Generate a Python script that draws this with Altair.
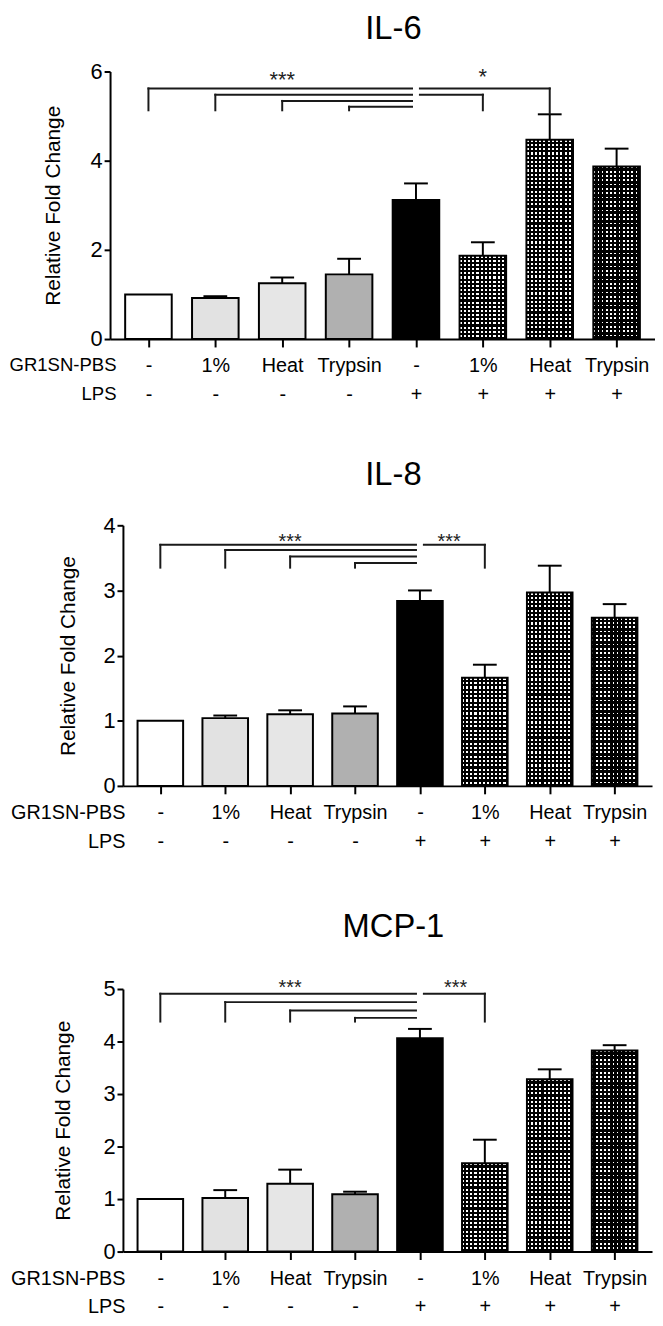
import json
import altair as alt
import pandas as pd

# ---------------- data ----------------
TITLES = ["IL-6", "IL-8", "MCP-1"]
GR_LABELS = ["-", "1%", "Heat", "Trypsin", "-", "1%", "Heat", "Trypsin"]
LPS_LABELS = ["-", "-", "-", "-", "+", "+", "+", "+"]
ROW_TITLES = ["GR1SN-PBS", "LPS"]
Y_TITLE = "Relative Fold Change"

IL6_MEAN = [1.00, 0.92, 1.25, 1.45, 3.12, 1.87, 4.47, 3.87]
IL6_SEM = [0.00, 0.04, 0.13, 0.35, 0.37, 0.30, 0.57, 0.40]
IL8_MEAN = [1.00, 1.04, 1.10, 1.11, 2.84, 1.66, 2.97, 2.58]
IL8_SEM = [0.00, 0.04, 0.06, 0.11, 0.16, 0.20, 0.41, 0.21]
MCP1_MEAN = [1.00, 1.02, 1.29, 1.09, 4.06, 1.68, 3.28, 3.83]
MCP1_SEM = [0.00, 0.15, 0.27, 0.05, 0.18, 0.45, 0.19, 0.10]

# brackets: (bar index, bracket level, leg end)
IL6_LEFT = [(0, 5.62, 5.13), (1, 5.48, 5.13), (2, 5.34, 5.13), (3, 5.21, 5.13)]
IL6_RIGHT = [(6, 5.62, 5.06), (5, 5.48, 5.13)]
IL6_STARS = [(2, 5.96, "***"), (5, 6.02, "*")]

IL8_LEFT = [(0, 3.70, 3.35), (1, 3.62, 3.35), (2, 3.52, 3.35), (3, 3.42, 3.35)]
IL8_RIGHT = [(5, 3.70, 3.35)]
IL8_STARS = [(2, 3.83, "***"), (4.45, 3.83, "***")]

MCP1_LEFT = [(0, 4.91, 4.38), (1, 4.75, 4.38), (2, 4.59, 4.38), (3, 4.45, 4.38)]
MCP1_RIGHT = [(5, 4.91, 4.38)]
MCP1_STARS = [(2, 5.13, "***"), (4.55, 5.13, "***")]

REF_BAR = 4  # the LPS-only bar all brackets meet at

# ---------------- styles ----------------
FONT = "Liberation Sans"
BAR_FILLS = ["#ffffff", "#e2e2e2", "#e6e6e6", "#b0b0b0", "#000000", "#000000", "#000000", "#000000"]
TEXTURE = {5: 0.50, 6: 0.50, 7: 0.40}  # white fraction of checker pattern
PERIOD = 4.3
BRACKET = "#1a1a1a"

LAYOUT = [
    dict(ymax=6, yticks=[0, 2, 4, 6], A=60, H=270, B=70, r0=0, r1=550, size=47,
         title_y=-43, ytx=-57, yoff=0, rowx=6, row_fs=18.7, star_fs=22),
    dict(ymax=4, yticks=[0, 1, 2, 3, 4], A=118, H=263, B=70, r0=13, r1=547, size=46,
         title_y=-51, ytx=-55, yoff=-13, rowx=15, row_fs=20, star_fs=20),
    dict(ymax=5, yticks=[0, 1, 2, 3, 4, 5], A=135, H=265, B=66, r0=13, r1=547, size=46,
         title_y=-62, ytx=-60, yoff=-13, rowx=15, row_fs=20, star_fs=20),
]


def stripes(n, frac, on, off):
    stops = []
    for k in range(n):
        a, b, c = k / n, (k + frac) / n, (k + 1) / n
        stops += [
            alt.GradientStop(color=on, offset=a),
            alt.GradientStop(color=on, offset=b),
            alt.GradientStop(color=off, offset=b),
            alt.GradientStop(color=off, offset=c),
        ]
    return stops


def panel(title, means, sems, left, right, stars, L):
    H = L["H"]
    df = pd.DataFrame({
        "x": list(range(8)),
        "y": means,
        "y2": [m + s for m, s in zip(means, sems)],
        "sem": sems,
        "fill": BAR_FILLS,
    })
    xs = alt.Scale(domain=[-0.5, 7.5], range=[L["r0"], L["r1"]], nice=False, zero=False)
    ys = alt.Scale(domain=[0, L["ymax"]], nice=False, zero=True)
    expr = "[%s[datum.value], %s[datum.value]]" % (json.dumps(GR_LABELS), json.dumps(LPS_LABELS))
    x_axis = alt.Axis(
        values=list(range(8)), labelExpr=expr, labelFontSize=20, labelFont=FONT,
        labelColor="black", labelAngle=0, labelBaseline="top", labelLineHeight=29,
        labelPadding=9, labelOverlap=False, labelFlush=False, tickSize=8, tickWidth=2,
        tickColor="black", domainColor="black", domainWidth=2, grid=False,
        title=ROW_TITLES, titleFont=FONT, titleFontSize=L["row_fs"], titleFontWeight="normal",
        titleColor="black", titleX=L["rowx"], titleY=17, titleAlign="right",
        titleBaseline="top", titleLineHeight=29, titleAngle=0,
    )
    y_axis = alt.Axis(
        values=L["yticks"], format="d", title=Y_TITLE, titleFont=FONT, titleFontSize=21,
        titleFontWeight="normal", titleColor="black", titleX=L["ytx"], titleY=H / 2,
        titleAngle=270, titleAlign="center", titleBaseline="middle",
        labelFontSize=22, labelFont=FONT, labelColor="black", labelPadding=2,
        tickSize=6, tickWidth=2, tickColor="black", domainColor="black", domainWidth=2,
        grid=False, offset=L["yoff"],
    )
    X = alt.X("x:Q", scale=xs, axis=x_axis)
    Y = alt.Y("y:Q", scale=ys, axis=y_axis)

    layers = []
    # invisible frame fixing the panel's extent
    layers.append(
        alt.Chart(alt.Data(values=[{"k": 0}])).mark_rule(strokeOpacity=0).encode(
            x=alt.value(-102), y=alt.value(-L["A"]), y2=alt.value(H + L["B"]))
    )
    layers.append(
        alt.Chart(alt.Data(values=[{"t": title}])).mark_text(
            fontSize=33, font=FONT, baseline="middle", align="center", color="black").encode(
            x=alt.value(286), y=alt.value(L["title_y"]), text="t:N")
    )
    layers.append(
        alt.Chart(df).mark_bar(size=L["size"], strokeWidth=0).encode(
            x=X, y=Y, fill=alt.Fill("fill:N", scale=None))
    )
    for k, f in TEXTURE.items():
        ncol = max(1, round(L["size"] / PERIOD))
        nrow = max(1, round(means[k] * H / L["ymax"] / PERIOD))
        vgrad = alt.LinearGradient(gradient="linear", x1=0, y1=0, x2=1, y2=0,
                                   stops=stripes(ncol, f, "#ffffff", "#000000"))
        hgrad = alt.LinearGradient(gradient="linear", x1=0, y1=0, x2=0, y2=1,
                                   stops=stripes(nrow, f, "rgba(0,0,0,0)", "#000000"))
        for g in (vgrad, hgrad):
            layers.append(
                alt.Chart(df).transform_filter(alt.datum.x == k).mark_bar(
                    size=L["size"], fill=g, strokeWidth=0).encode(x=X, y=Y)
            )
    layers.append(
        alt.Chart(df).mark_bar(size=L["size"], fillOpacity=0, stroke="black", strokeWidth=2).encode(
            x=X, y=Y)
    )
    layers.append(
        alt.Chart(df).transform_filter("datum.sem > 0").mark_rule(strokeWidth=2, color="black").encode(
            x=X, y=Y, y2="y2:Q")
    )
    layers.append(
        alt.Chart(df).transform_filter("datum.sem > 0").mark_tick(
            orient="horizontal", size=24, thickness=2, color="black", opacity=1).encode(
            x=X, y=alt.Y("y2:Q", scale=ys, axis=y_axis))
    )
    ldf = pd.DataFrame({"x": [b[0] for b in left], "x2": [REF_BAR] * len(left),
                        "y": [b[1] for b in left]})
    rdf = pd.DataFrame({"x": [REF_BAR] * len(right), "x2": [b[0] for b in right],
                        "y": [b[1] for b in right]})
    legs = left + right
    gdf = pd.DataFrame({"x": [b[0] for b in legs], "y": [b[1] for b in legs],
                        "y2": [b[2] for b in legs]})
    rule_kw = dict(strokeWidth=2, color=BRACKET, strokeCap="square")
    layers.append(alt.Chart(ldf).mark_rule(x2Offset=-4, **rule_kw).encode(x=X, x2="x2:Q", y=Y))
    layers.append(alt.Chart(rdf).mark_rule(xOffset=4, **rule_kw).encode(x=X, x2="x2:Q", y=Y))
    layers.append(alt.Chart(gdf).mark_rule(**rule_kw).encode(x=X, y=Y, y2="y2:Q"))
    sdf = pd.DataFrame({"x": [s[0] for s in stars], "y": [s[1] for s in stars],
                        "t": [s[2] for s in stars]})
    layers.append(
        alt.Chart(sdf).mark_text(fontSize=L["star_fs"], font=FONT, color="#222222",
                                 baseline="middle", dy=round(0.3 * L["star_fs"])).encode(
            x=X, y=Y, text="t:N")
    )
    return alt.layer(*layers).properties(width=L["r1"], height=H)


p1 = panel(TITLES[0], IL6_MEAN, IL6_SEM, IL6_LEFT, IL6_RIGHT, IL6_STARS, LAYOUT[0])
p2 = panel(TITLES[1], IL8_MEAN, IL8_SEM, IL8_LEFT, IL8_RIGHT, IL8_STARS, LAYOUT[1])
p3 = panel(TITLES[2], MCP1_MEAN, MCP1_SEM, MCP1_LEFT, MCP1_RIGHT, MCP1_STARS, LAYOUT[2])

chart = alt.vconcat(p1, p2, p3, spacing=0).properties(
    padding={"left": 0, "top": -2, "right": 0, "bottom": 0},
    background="white",
).configure_view(stroke=None)

chart.save("out.html", embed_options={"renderer": "svg", "actions": False})
